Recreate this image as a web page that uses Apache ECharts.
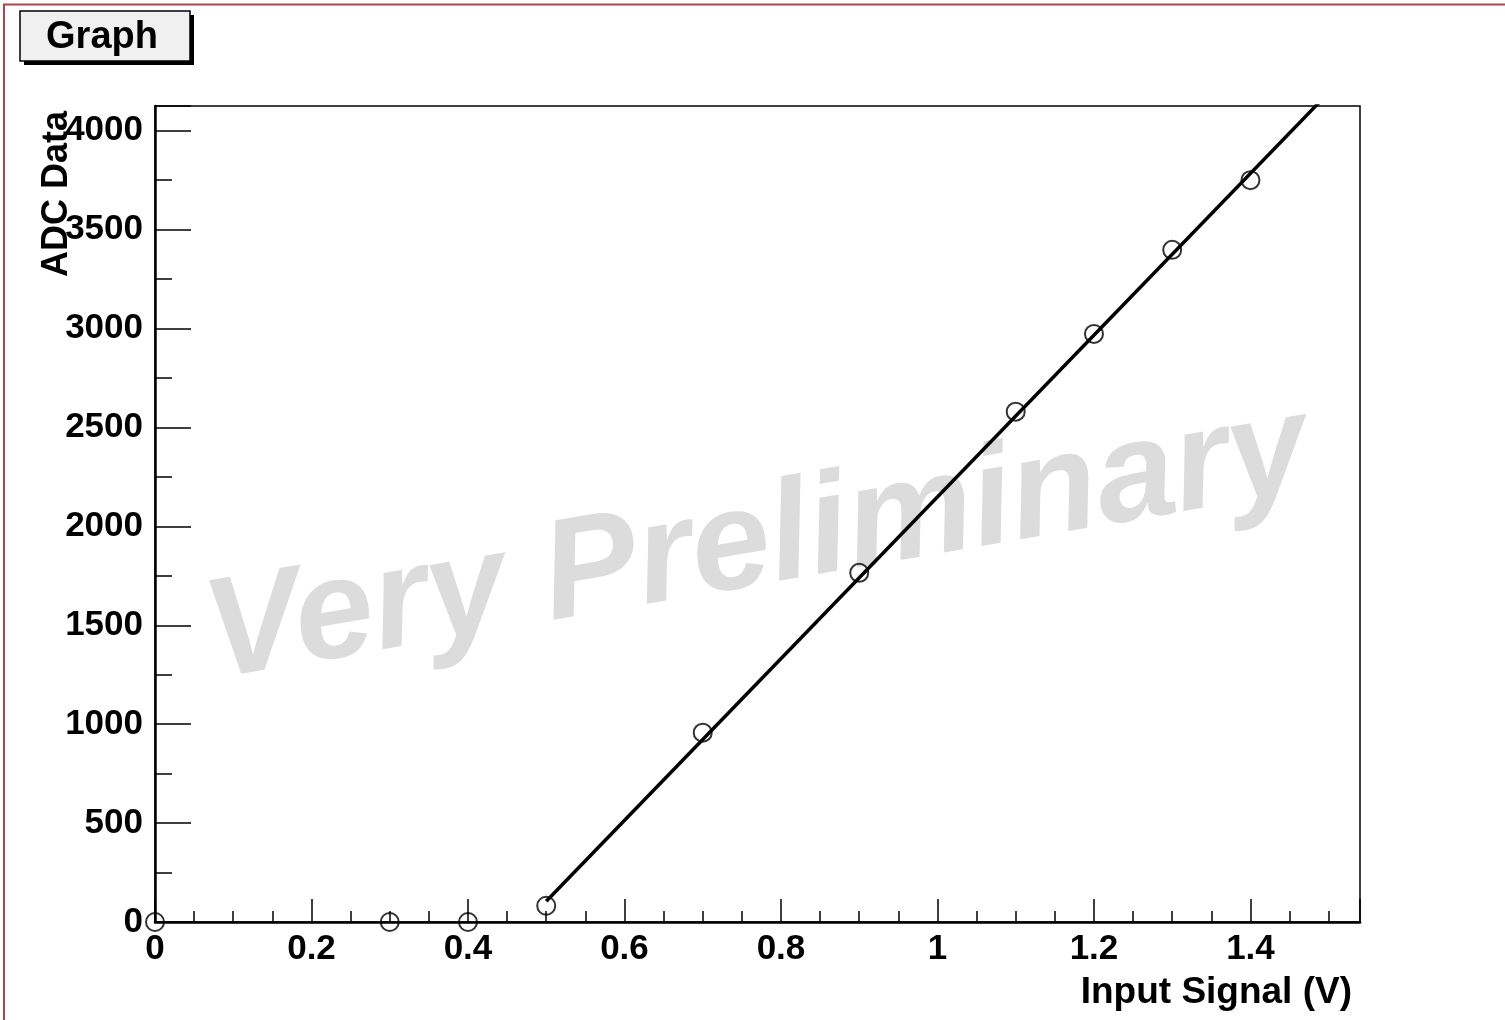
<!DOCTYPE html>
<html>
<head>
<meta charset="utf-8">
<script src="https://cdn.jsdelivr.net/npm/echarts@6/dist/echarts.min.js"></script>
<style>
  html, body { margin: 0; padding: 0; background: #fff; }
  #chart { width: 1505px; height: 1020px; }
</style>
</head>
<body>
<div id="chart"></div>
<script>
// measured points (input voltage -> ADC counts)
const inputSignal = [0, 0.3, 0.4, 0.5, 0.7, 0.9, 1.1, 1.2, 1.3, 1.4];
const adcData = [0, 0, 0, 82, 957, 1765, 2580, 2973, 3398, 3750];

// linear fit drawn from 0.5 V, clipped by the frame
const fitX = [0.5, 1.5];
const fitY = [105, 4193];

const xRange = [0, 1.54];
const yRange = [0, 4125];
const xStep = 0.2;
const yStep = 500;

const FONT = '"Liberation Sans", Arial, Helvetica, sans-serif';

const chart = echarts.init(document.getElementById('chart'), null, { renderer: 'canvas' });

const option = {
  animation: false,
  backgroundColor: '#fff',
  grid: {
    left: 155, right: 145, top: 106, bottom: 98,
    show: true,
    borderColor: '#000',
    borderWidth: 1.5,
    backgroundColor: 'transparent'
  },
  xAxis: {
    type: 'value',
    min: xRange[0],
    max: xRange[1],
    interval: xStep,
    axisLine: { show: true, onZero: false, lineStyle: { color: '#000', width: 2.5 } },
    axisTick: { show: true, inside: true, length: 23, lineStyle: { color: '#000', width: 1.5 } },
    minorTick: { show: true, splitNumber: 4, length: 11, lineStyle: { color: '#000', width: 1.5 } },
    splitLine: { show: false },
    axisLabel: {
      showMaxLabel: false,
      margin: 27,
      verticalAlign: 'middle',
      color: '#000',
      fontFamily: FONT,
      fontWeight: 'bold',
      fontSize: 35,
      formatter: v => String(+v.toFixed(2))
    }
  },
  yAxis: {
    type: 'value',
    min: yRange[0],
    max: yRange[1],
    interval: yStep,
    axisLine: { show: true, onZero: false, lineStyle: { color: '#000', width: 2.5 } },
    axisTick: { show: true, inside: true, length: 36, lineStyle: { color: '#000', width: 1.5 } },
    minorTick: { show: true, splitNumber: 2, length: 17, lineStyle: { color: '#000', width: 1.5 } },
    splitLine: { show: false },
    axisLabel: {
      showMaxLabel: false,
      margin: 12,
      color: '#000',
      fontFamily: FONT,
      fontWeight: 'bold',
      fontSize: 35,
      formatter: v => String(Math.round(v))
    }
  },
  graphic: [
    // canvas border (top and left edges)
    { type: 'line', shape: { x1: 3, y1: 4.5, x2: 1505, y2: 4.5 }, style: { stroke: '#b4434a', lineWidth: 2 }, z: 10 },
    { type: 'line', shape: { x1: 4, y1: 4, x2: 4, y2: 1020 }, style: { stroke: '#b4434a', lineWidth: 2 }, z: 10 },
    // title box with shadow
    { type: 'rect', shape: { x: 24, y: 15, width: 170, height: 50 }, style: { fill: '#000' }, z: 10 },
    { type: 'rect', shape: { x: 20, y: 11, width: 170, height: 50 }, style: { fill: '#f0f0f0', stroke: '#000', lineWidth: 1.5 }, z: 11 },
    {
      type: 'text', x: 102, y: 38, z: 12,
      style: { text: 'Graph', font: 'bold 38px ' + FONT, fill: '#000', textAlign: 'center', textVerticalAlign: 'middle' }
    },
    // axis titles
    {
      type: 'text', x: 1352, y: 993, z: 12,
      style: { text: 'Input Signal (V)', font: 'bold 37px ' + FONT, fill: '#000', textAlign: 'right', textVerticalAlign: 'middle' }
    },
    {
      type: 'text', x: 57, y: 111, rotation: Math.PI / 2, z: 12,
      style: { text: 'ADC Data', font: 'bold 36px ' + FONT, fill: '#000', textAlign: 'right', textVerticalAlign: 'middle' }
    },
    // watermark
    {
      type: 'text', x: 757, y: 545, rotation: 0.171, z: 1,
      style: { text: 'Very Preliminary', font: 'italic bold 142px ' + FONT, fill: '#dcdcdc', textAlign: 'center', textVerticalAlign: 'middle' }
    }
  ],
  series: [
    {
      name: 'fit',
      type: 'line',
      z: 5,
      clip: true,
      showSymbol: false,
      symbol: 'none',
      lineStyle: { color: '#000', width: 3.5 },
      data: fitX.map((x, i) => [x, fitY[i]])
    },
    {
      name: 'data',
      type: 'scatter',
      z: 6,
      clip: false,
      symbol: 'circle',
      symbolSize: 18,
      itemStyle: { color: 'rgba(0,0,0,0)', borderColor: '#000', borderWidth: 2 },
      data: inputSignal.map((x, i) => [x, adcData[i]])
    }
  ]
};

chart.setOption(option);
</script>
</body>
</html>
